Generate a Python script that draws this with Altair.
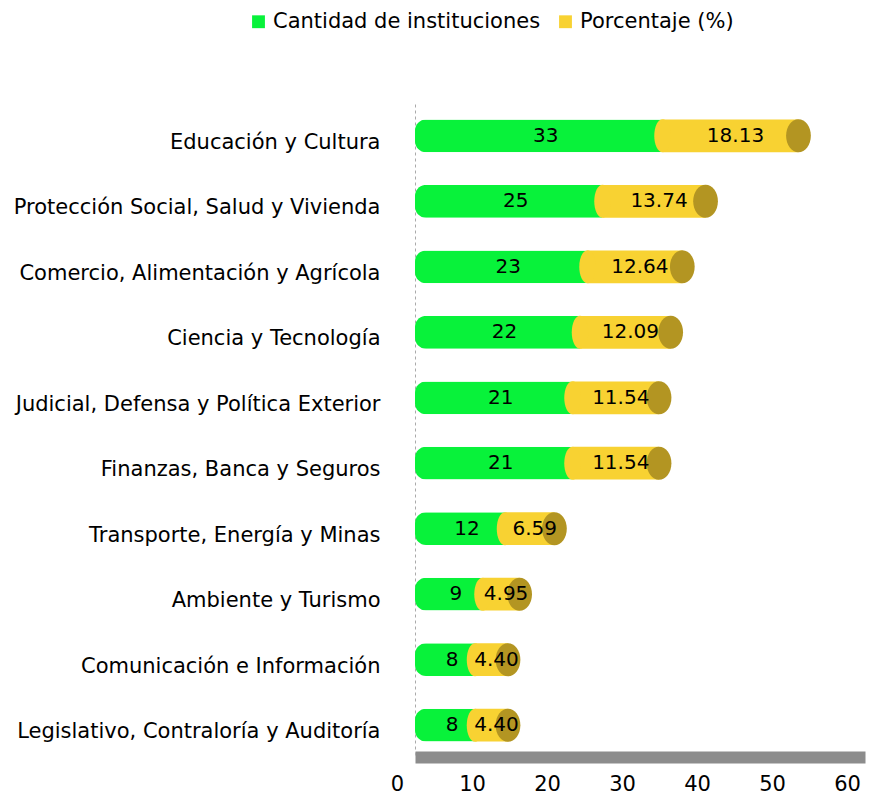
import altair as alt
import pandas as pd

categorias = [
    "Educación y Cultura",
    "Protección Social, Salud y Vivienda",
    "Comercio, Alimentación y Agrícola",
    "Ciencia y Tecnología",
    "Judicial, Defensa y Política Exterior",
    "Finanzas, Banca y Seguros",
    "Transporte, Energía y Minas",
    "Ambiente y Turismo",
    "Comunicación e Información",
    "Legislativo, Contraloría y Auditoría ",
]
cantidad = [33, 25, 23, 22, 21, 21, 12, 9, 8, 8]
porcentaje = [18.13, 13.74, 12.64, 12.09, 11.54, 11.54, 6.59, 4.95, 4.40, 4.40]
series = ["Cantidad de instituciones", "Porcentaje (%)"]
x_ticks = [0, 10, 20, 30, 40, 50, 60]

GREEN = "#08f23a"
YELLOW = "#f8d232"
CAP = "#b39522"
FONT = "DejaVu Sans"

df = pd.DataFrame({"cat": categorias, "cantidad": cantidad, "porcentaje": porcentaje})
df["total"] = df["cantidad"] + df["porcentaje"]
df["mid_c"] = df["cantidad"] / 2
df["mid_p"] = df["cantidad"] + df["porcentaje"] / 2
df["lab_p"] = df["porcentaje"].map(lambda v: f"{v:.2f}")
df["s_c"] = series[0]
df["s_p"] = series[1]

color_scale = alt.Scale(domain=series, range=[GREEN, YELLOW])

y = alt.Y(
    "cat:N",
    sort=categorias,
    title=None,
    scale=alt.Scale(paddingInner=0.5, paddingOuter=0.235),
    axis=alt.Axis(
        ticks=False,
        labelFont=FONT,
        labelFontSize=21,
        labelColor="#000000",
        labelPadding=35,
        labelLimit=420,
        labelOffset=7,
        domainColor="#aaaaaa",
        domainDash=[3, 3],
        domainWidth=1,
    ),
)

xscale = alt.Scale(domain=[0, 60], nice=False)
xaxis = alt.Axis(
    values=x_ticks,
    ticks=False,
    grid=False,
    labelFont=FONT,
    labelFontSize=21,
    labelColor="#000000",
    labelPadding=16,
    labelOffset=-18,
    labelFlush=False,
    domainColor="#8c8c8c",
    domainWidth=12,
    title=None,
)

legend = alt.Legend(
    title=None,
    orient="none",
    direction="horizontal",
    legendX=-167,
    legendY=-93,
    symbolType="square",
    symbolSize=165,
    symbolStrokeWidth=0,
    labelFont=FONT,
    labelFontSize=21,
    labelColor="#000000",
    labelLimit=400,
    columnPadding=14,
)

cap_shape = "M0,-1 A0.75,1 0 1,1 0,1 A0.75,1 0 1,1 0,-1 Z"
edge_shape = "M0,-1 A0.5,1 0 1,1 0,1 A0.5,1 0 1,1 0,-1 Z"

base = alt.Chart(df)

green = base.mark_bar(cornerRadiusTopLeft=11, cornerRadiusBottomLeft=11).encode(
    x=alt.X("cantidad:Q", scale=xscale, axis=xaxis),
    y=y,
    color=alt.Color("s_c:N", scale=color_scale, legend=legend),
)

yellow = base.mark_bar().encode(
    x=alt.X("cantidad:Q", scale=xscale, axis=xaxis),
    x2="total:Q",
    y=y,
    color=alt.Color("s_p:N", scale=color_scale, legend=legend),
)

yellow_edge = base.mark_point(
    shape=edge_shape, filled=True, size=1089, color=YELLOW, opacity=1
).encode(x=alt.X("cantidad:Q", scale=xscale), y=y)

cap = base.mark_point(
    shape=cap_shape, filled=True, size=1089, color=CAP, opacity=1
).encode(x=alt.X("total:Q", scale=xscale), y=y)

txt_c = base.mark_text(font=FONT, fontSize=20, color="#000000", dx=7).encode(
    x=alt.X("mid_c:Q", scale=xscale), y=y, text="cantidad:Q"
)
txt_p = base.mark_text(font=FONT, fontSize=20, color="#000000", dx=5).encode(
    x=alt.X("mid_p:Q", scale=xscale), y=y, text="lab_p:N"
)

chart = (
    alt.layer(green, yellow, yellow_edge, cap, txt_c, txt_p)
    .properties(
        width=450,
        height=653,
        autosize=alt.AutoSizeParams(type="none"),
        padding={"left": 407, "top": 96, "right": 15, "bottom": 40},
    )
    .configure_view(stroke=None)
)

chart.save("out.html", embed_options={"renderer": "svg", "actions": False})
